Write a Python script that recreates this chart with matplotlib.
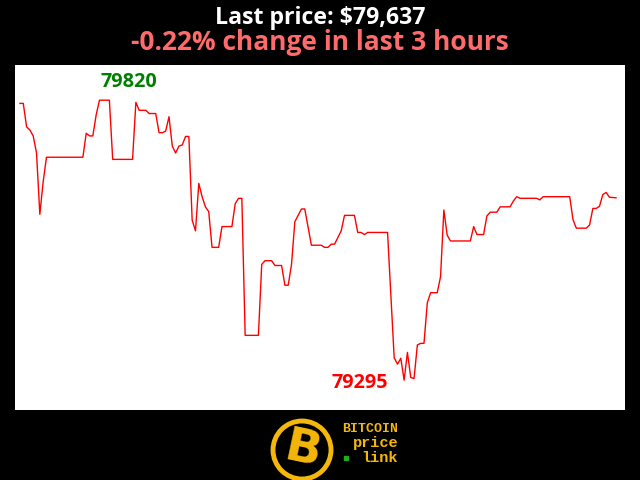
"""
Precio de bitcoin en las ultimas 3 horas, estilo bitcoinprice.link
"""
import matplotlib.pyplot as plt
from matplotlib.patches import Circle

# minutos (vertices de la linea) y precio en USD
minutos = [0, 1, 2, 3, 4, 5, 6, 7, 8, 19, 20, 21, 22, 23, 24, 27, 28, 34, 35, 36,
           38, 39, 41, 42, 43, 44, 45, 46, 47, 48, 49, 50, 51, 52, 53, 54, 55, 56, 57, 58,
           60, 61, 64, 65, 66, 67, 68, 72, 73, 74, 76, 77, 79, 80, 81, 82, 83, 85, 86, 88,
           91, 92, 93, 94, 95, 97, 98, 101, 102, 103, 104, 105, 111, 112, 113, 114, 115, 116, 117, 118,
           119, 120, 121, 122, 123, 124, 126, 127, 128, 129, 130, 136, 137, 138, 140, 141, 142, 144, 145, 148,
           149, 150, 151, 156, 157, 158, 166, 167, 168, 171, 172, 173, 174, 175, 176, 177, 178, 180]
precios = [79814, 79814, 79770, 79764, 79753, 79721, 79606, 79667, 79713, 79713,
           79758, 79753, 79753, 79792, 79820, 79820, 79709, 79709, 79816, 79801,
           79801, 79795, 79795, 79759, 79759, 79762, 79789, 79734, 79721, 79734,
           79736, 79752, 79752, 79595, 79575, 79664, 79639, 79620, 79611, 79544,
           79544, 79583, 79583, 79626, 79636, 79636, 79379, 79379, 79512, 79519,
           79519, 79510, 79510, 79473, 79473, 79512, 79592, 79616, 79616, 79548,
           79548, 79544, 79544, 79550, 79550, 79575, 79604, 79604, 79572, 79572,
           79568, 79572, 79572, 79454, 79337, 79325, 79336, 79295, 79347, 79300,
           79298, 79361, 79364, 79364, 79440, 79459, 79459, 79489, 79614, 79567,
           79556, 79556, 79583, 79568, 79568, 79603, 79610, 79610, 79620, 79620,
           79631, 79639, 79636, 79636, 79633, 79639, 79639, 79596, 79580, 79580,
           79586, 79617, 79617, 79621, 79643, 79647, 79638, 79637]

ultimo = precios[-1]
cambio = -0.22
horas = 3

plt.rcParams['font.family'] = ['Open Sans', 'DejaVu Sans']

fig = plt.figure(figsize=(6.4, 4.8), dpi=100, facecolor='black')

# area del grafico en blanco
ax = fig.add_axes([15 / 640, 1 - 410 / 480, 610 / 640, 345 / 480])
ax.set_facecolor('white')
ax.plot(minutos, precios, color='red', lw=1)
ax.set_xlim(-1.5, 182.7)
ax.set_ylim(79239, 79886)
ax.set_xticks([])
ax.set_yticks([])
for s in ax.spines.values():
    s.set_visible(False)

i_max = precios.index(max(precios))
i_min = precios.index(min(precios))
ax.annotate(f"{max(precios)}", (minutos[i_max], precios[i_max]),
            xytext=(1, 8), textcoords='offset pixels', ha='left', va='bottom',
            color='green', fontsize=14.3, fontweight='bold')
ax.annotate(f"{min(precios)}", (minutos[i_min], precios[i_min]),
            xytext=(-16, -3), textcoords='offset pixels', ha='right', va='center',
            color='red', fontsize=14.3, fontweight='bold')

# titulos
fig.text(0.5, 1 - 23.5 / 480, f"Last price: ${ultimo:,}", ha='center', va='baseline',
         color='white', fontsize=16.7, fontweight='bold')
fig.text(0.5, 1 - 50 / 480, f"{cambio:.2f}% change in last {horas} hours", ha='center',
         va='baseline', color='#ff6b6b', fontsize=19, fontweight='bold')

# logo abajo (coordenadas en pixeles)
logo = fig.add_axes([0, 0, 1, 1], facecolor='none')
logo.set_xlim(0, 640)
logo.set_ylim(480, 0)
logo.axis('off')
oro = '#f5b70a'
logo.add_patch(Circle((302, 450), 29, fill=False, ec=oro, lw=3.5))
logo.text(303, 451, "B", color=oro, fontsize=34, fontweight='bold', rotation=-12,
          ha='center', va='center', family='DejaVu Sans')
for txt, y, fs in [("BITCOIN", 432.5, 9.5), ("price", 447.5, 11), ("link", 461.5, 11)]:
    logo.text(398, y, txt, color=oro, fontsize=fs, fontweight='bold', ha='right',
              va='baseline', family='Liberation Mono')
logo.plot([346], [458], marker='s', ms=2.5, color='#22aa22')

fig.savefig('out.png', dpi=100, facecolor='black')
